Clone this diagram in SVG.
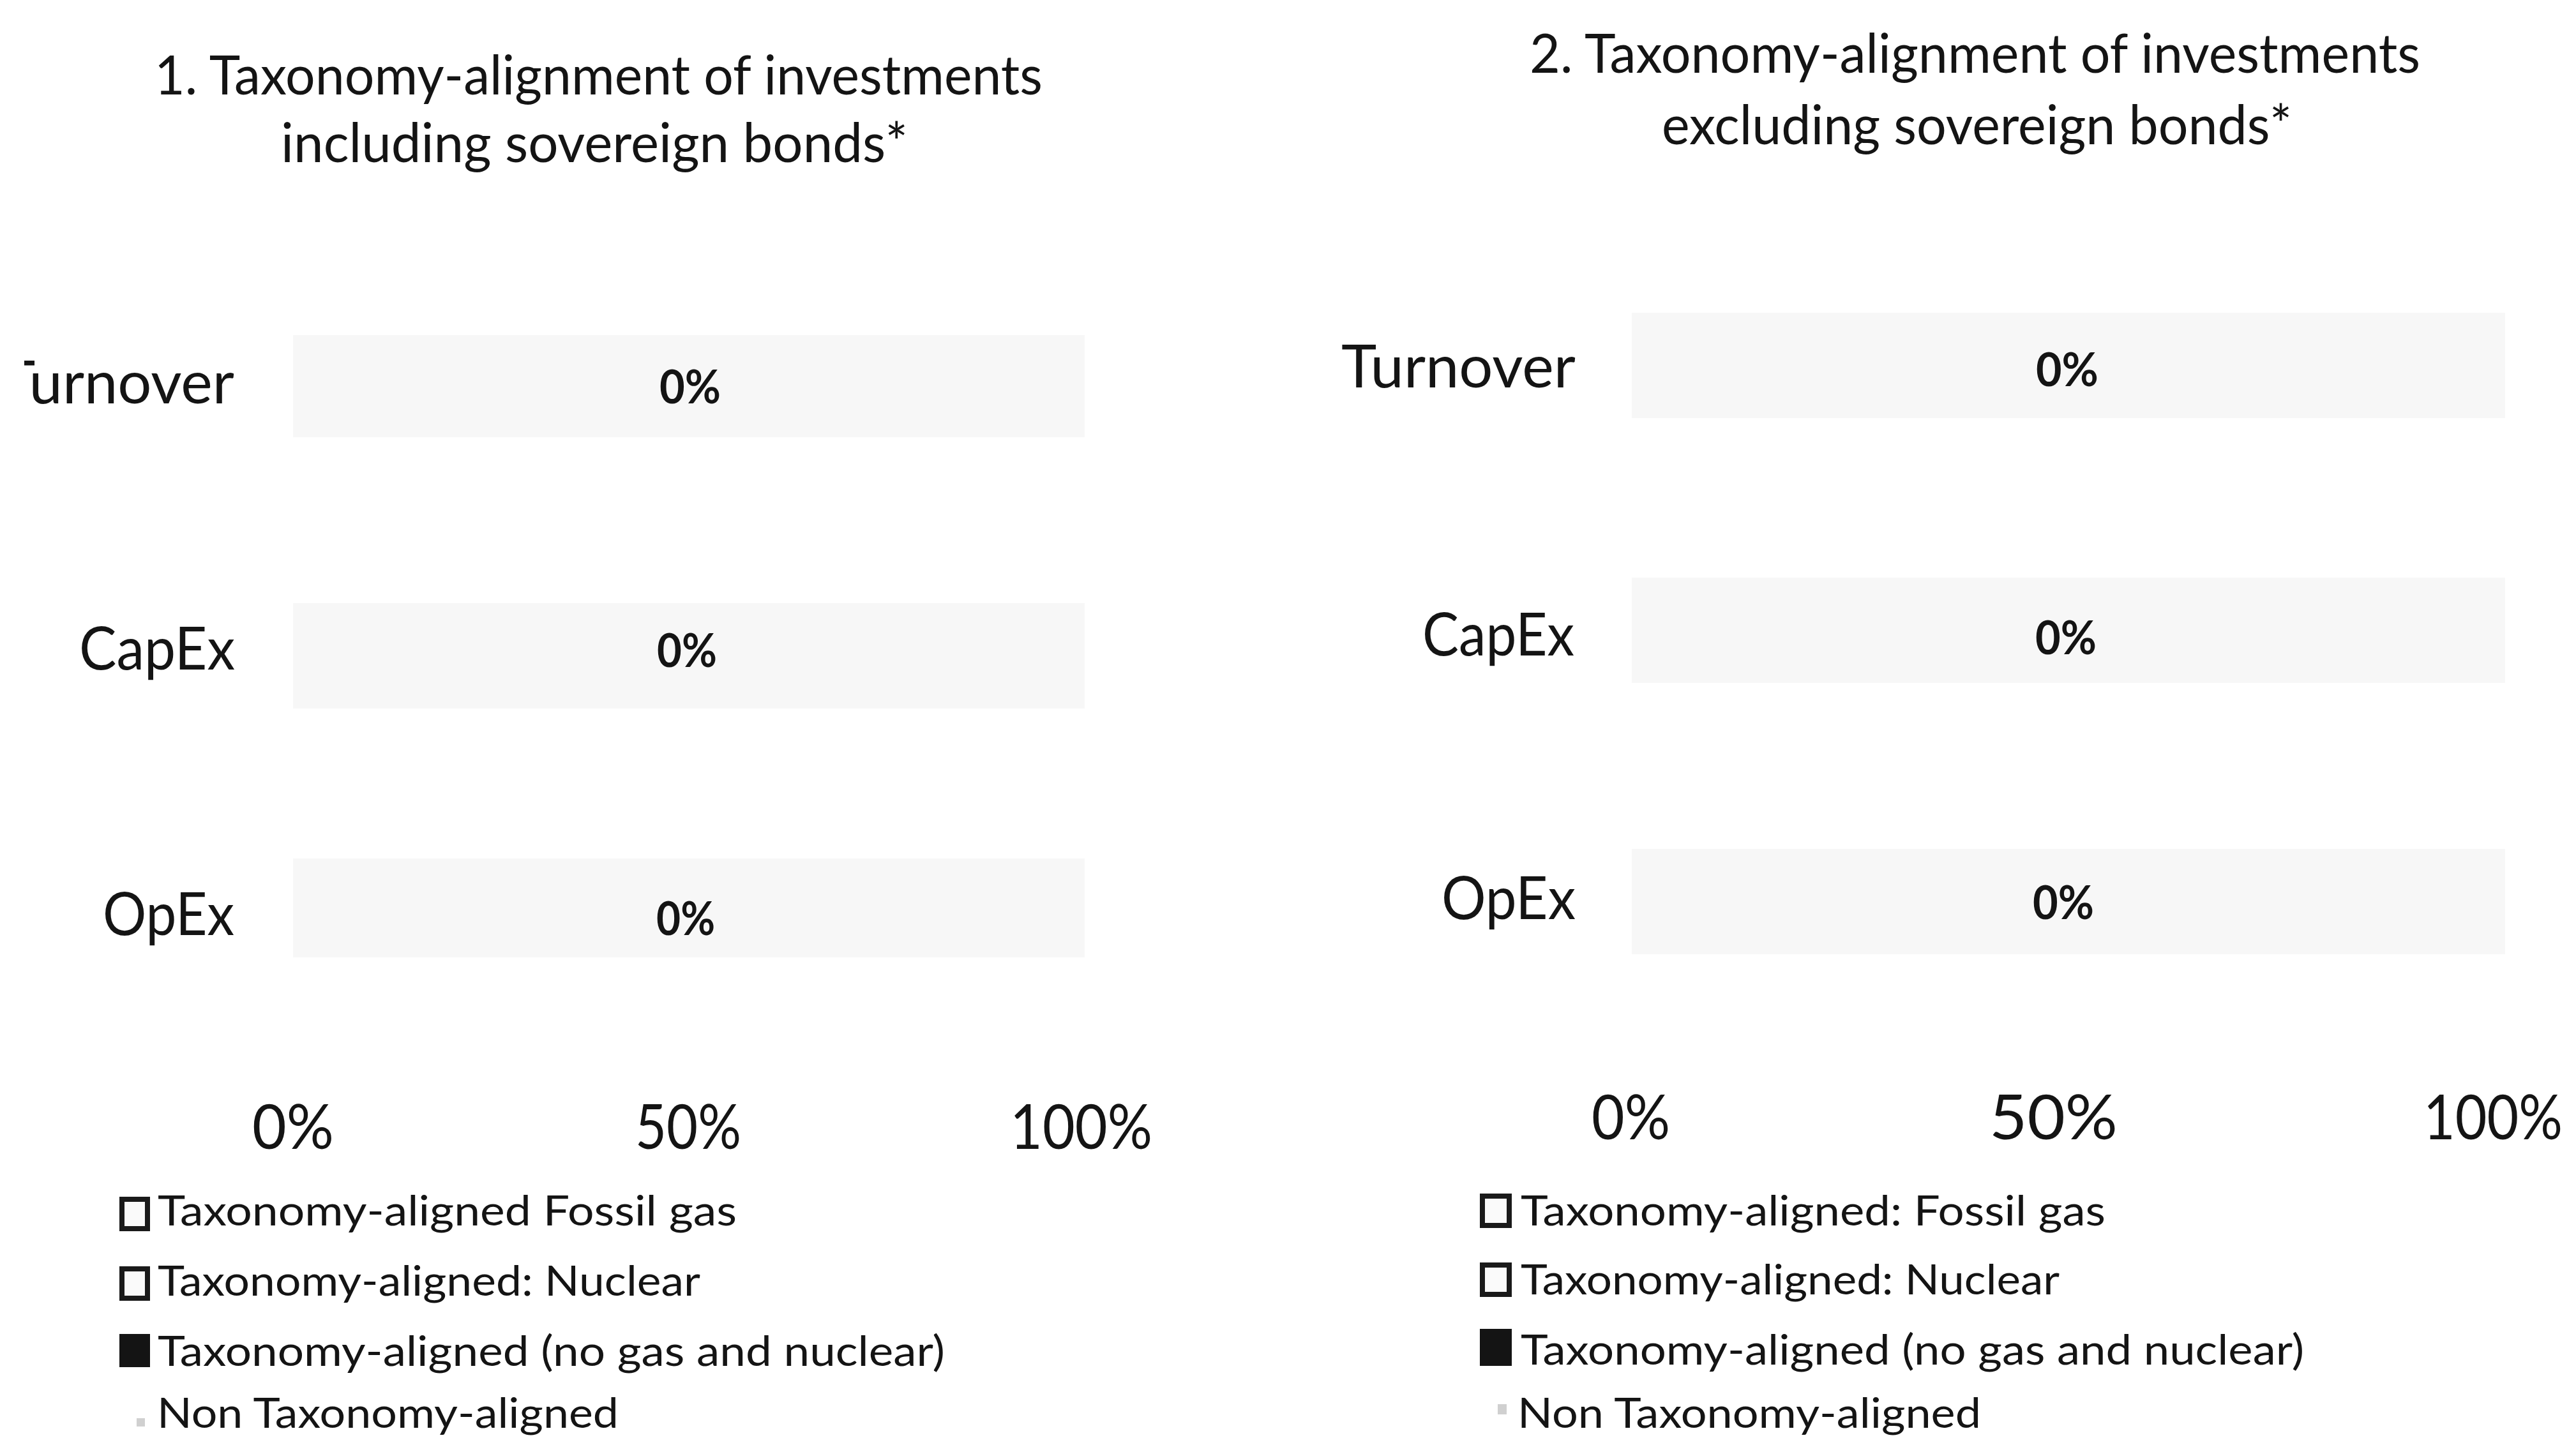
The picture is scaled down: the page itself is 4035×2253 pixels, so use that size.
<svg xmlns="http://www.w3.org/2000/svg" width="4035" height="2253" viewBox="0 0 4035 2253">
<style>
text{font-family:Lato,"Open Sans","Liberation Sans",sans-serif;fill:#141414}
.title{font-size:86px}
.row{font-size:94px}
.pct{font-size:72px;font-weight:bold}
.axis{font-size:96px}
.leg{font-size:66px}
.bar{fill:#f7f7f7}
.box{fill:#fafafa;stroke:#1a1a1a;stroke-width:8}
.fill{fill:#141414}
.mark{fill:#d0d0d0}
</style>
<defs>
<clipPath id="clipT"><rect x="38" y="0" width="400" height="2253"/></clipPath>
</defs>
<rect width="4035" height="2253" fill="#ffffff"/>

<g id="chart1">
<g id="title1">
<text class="title" x="242" y="148" textLength="1391" lengthAdjust="spacingAndGlyphs">1. Taxonomy-alignment of investments</text>
<text class="title" x="440" y="254" textLength="982" lengthAdjust="spacingAndGlyphs">including sovereign bonds*</text>
</g>
<g id="c1-turnover">
<rect class="bar" x="459" y="525" width="1240" height="160"/>
<text class="row" x="0" y="632" textLength="367" lengthAdjust="spacingAndGlyphs" clip-path="url(#clipT)">Turnover</text>
<text class="pct" x="1033" y="632" textLength="96" lengthAdjust="spacingAndGlyphs">0%</text>
</g>
<g id="c1-capex">
<rect class="bar" x="459" y="945" width="1240" height="165"/>
<text class="row" x="124" y="1049" textLength="244" lengthAdjust="spacingAndGlyphs">CapEx</text>
<text class="pct" x="1029" y="1045" textLength="94" lengthAdjust="spacingAndGlyphs">0%</text>
</g>
<g id="c1-opex">
<rect class="bar" x="459" y="1345" width="1240" height="155"/>
<text class="row" x="161" y="1465" textLength="206" lengthAdjust="spacingAndGlyphs">OpEx</text>
<text class="pct" x="1028" y="1465" textLength="92" lengthAdjust="spacingAndGlyphs">0%</text>
</g>
<g id="c1-axis">
<text class="axis" x="395" y="1800" textLength="128" lengthAdjust="spacingAndGlyphs">0%</text>
<text class="axis" x="995" y="1800" textLength="166" lengthAdjust="spacingAndGlyphs">50%</text>
<text class="axis" x="1582" y="1800" textLength="223" lengthAdjust="spacingAndGlyphs">100%</text>
</g>
<g id="c1-legend">
<rect class="box" x="191" y="1879" width="40" height="46"/>
<text class="leg" x="247" y="1920" textLength="907" lengthAdjust="spacingAndGlyphs">Taxonomy-aligned  Fossil gas</text>
<rect class="box" x="191" y="1988" width="40" height="46"/>
<text class="leg" x="247" y="2030" textLength="850" lengthAdjust="spacingAndGlyphs">Taxonomy-aligned: Nuclear</text>
<rect class="fill" x="187" y="2090" width="48" height="52"/>
<text class="leg" x="247" y="2140" textLength="1233" lengthAdjust="spacingAndGlyphs">Taxonomy-aligned (no gas and nuclear)</text>
<rect class="mark" x="214" y="2222" width="13" height="13"/>
<text class="leg" x="246" y="2237" textLength="723" lengthAdjust="spacingAndGlyphs">Non Taxonomy-aligned</text>
</g>
</g>

<g id="chart2">
<g id="title2">
<text class="title" x="2396" y="114" textLength="1395" lengthAdjust="spacingAndGlyphs">2. Taxonomy-alignment of investments</text>
<text class="title" x="2603" y="226" textLength="987" lengthAdjust="spacingAndGlyphs">excluding sovereign bonds*</text>
</g>
<g id="c2-turnover">
<rect class="bar" x="2556" y="490" width="1368" height="165"/>
<text class="row" x="2101" y="607" textLength="367" lengthAdjust="spacingAndGlyphs">Turnover</text>
<text class="pct" x="3189" y="605" textLength="98" lengthAdjust="spacingAndGlyphs">0%</text>
</g>
<g id="c2-capex">
<rect class="bar" x="2556" y="905" width="1368" height="165"/>
<text class="row" x="2228" y="1027" textLength="238" lengthAdjust="spacingAndGlyphs">CapEx</text>
<text class="pct" x="3188" y="1025" textLength="96" lengthAdjust="spacingAndGlyphs">0%</text>
</g>
<g id="c2-opex">
<rect class="bar" x="2556" y="1330" width="1368" height="165"/>
<text class="row" x="2258" y="1440" textLength="210" lengthAdjust="spacingAndGlyphs">OpEx</text>
<text class="pct" x="3184" y="1440" textLength="96" lengthAdjust="spacingAndGlyphs">0%</text>
</g>
<g id="c2-axis">
<text class="axis" x="2493" y="1785" textLength="123" lengthAdjust="spacingAndGlyphs">0%</text>
<text class="axis" x="3116" y="1785" textLength="201" lengthAdjust="spacingAndGlyphs">50%</text>
<text class="axis" x="3796" y="1785" textLength="218" lengthAdjust="spacingAndGlyphs">100%</text>
</g>
<g id="c2-legend">
<rect class="box" x="2322" y="1874" width="42" height="46"/>
<text class="leg" x="2382" y="1920" textLength="916" lengthAdjust="spacingAndGlyphs">Taxonomy-aligned: Fossil gas</text>
<rect class="box" x="2322" y="1982" width="42" height="46"/>
<text class="leg" x="2382" y="2028" textLength="844" lengthAdjust="spacingAndGlyphs">Taxonomy-aligned: Nuclear</text>
<rect class="fill" x="2318" y="2082" width="50" height="58"/>
<text class="leg" x="2382" y="2138" textLength="1227" lengthAdjust="spacingAndGlyphs">Taxonomy-aligned (no gas and nuclear)</text>
<rect class="mark" x="2346" y="2200" width="14" height="16"/>
<text class="leg" x="2377" y="2237" textLength="726" lengthAdjust="spacingAndGlyphs">Non Taxonomy-aligned</text>
</g>
</g>

<g id="connectors"/>
</svg>
